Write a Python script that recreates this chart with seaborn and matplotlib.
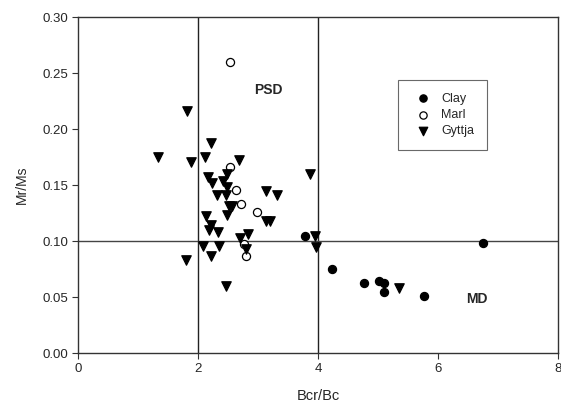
"""Mr/Ms vs Bcr/Bc (Day plot) for clay, marl and gyttja samples."""

import matplotlib
matplotlib.use("Agg")

import matplotlib.pyplot as plt  # noqa: E402
import pandas as pd  # noqa: E402
import seaborn as sns  # noqa: E402

sns.set_style("white")
plt.rcParams["font.family"] = ["Liberation Sans", "DejaVu Sans"]
plt.rcParams["font.size"] = 9

# Data
clay_x = [3.78, 6.74, 4.24, 4.77, 5.02, 5.09, 5.10, 5.76]
clay_y = [0.105, 0.098, 0.075, 0.063, 0.064, 0.063, 0.055, 0.051]

marl_x = [2.54, 2.54, 2.64, 2.72, 2.99, 2.76, 2.80]
marl_y = [0.260, 0.166, 0.146, 0.133, 0.126, 0.097, 0.087]

gyttja_x = [1.82, 2.21, 1.34, 1.89, 2.12, 2.68, 3.86, 2.16, 2.24, 2.41,
            2.48, 2.49, 3.13, 3.31, 2.32, 2.46, 2.51, 2.56, 2.49, 3.13,
            3.20, 2.14, 2.21, 2.19, 2.33, 2.70, 2.84, 2.09, 2.35, 2.80,
            2.22, 1.80, 2.47, 3.95, 3.97, 5.35]
gyttja_y = [0.216, 0.188, 0.175, 0.171, 0.175, 0.172, 0.160, 0.157, 0.152, 0.154,
            0.160, 0.148, 0.145, 0.141, 0.141, 0.141, 0.131, 0.131, 0.123, 0.118,
            0.118, 0.122, 0.114, 0.110, 0.108, 0.103, 0.106, 0.096, 0.096, 0.093,
            0.087, 0.083, 0.060, 0.105, 0.095, 0.058]

df = pd.concat([
    pd.DataFrame({"Bcr/Bc": clay_x, "Mr/Ms": clay_y, "type": "Clay"}),
    pd.DataFrame({"Bcr/Bc": marl_x, "Mr/Ms": marl_y, "type": "Marl"}),
    pd.DataFrame({"Bcr/Bc": gyttja_x, "Mr/Ms": gyttja_y, "type": "Gyttja"}),
], ignore_index=True)

styles = {
    "Clay": dict(marker="o", color="black", s=34),
    "Marl": dict(marker="o", color="white", s=34),
    "Gyttja": dict(marker="v", color="black", s=46),
}

fig = plt.figure(figsize=(5.61, 4.05), dpi=100)
ax = fig.add_axes([0.139, 0.128, 0.856, 0.830])

for name, st in styles.items():
    sub = df[df["type"] == name]
    sns.scatterplot(data=sub, x="Bcr/Bc", y="Mr/Ms", ax=ax, label=name,
                    edgecolor="black", linewidth=0.9, zorder=3, **st)

# Domain boundaries
ax.axvline(2, color="#222222", linewidth=1.0, zorder=2)
ax.axvline(4, color="#222222", linewidth=1.0, zorder=2)
ax.axhline(0.10, color="#444444", linewidth=1.0, zorder=2)

ax.text(3.17, 0.235, "PSD", fontsize=10, fontweight="bold", ha="center", va="center")
ax.text(6.64, 0.048, "MD", fontsize=10, fontweight="bold", ha="center", va="center")

ax.set_xlim(0, 8)
ax.set_ylim(0, 0.30)
ax.set_xticks([0, 2, 4, 6, 8])
ax.set_yticks([0, 0.05, 0.10, 0.15, 0.20, 0.25, 0.30])
ax.set_yticklabels([f"{v:.2f}" for v in ax.get_yticks()])
ax.tick_params(direction="out", length=4, width=0.8, color="#333333",
               labelsize=9.5, bottom=True, left=True, pad=3)
ax.set_xlabel("Bcr/Bc", fontsize=10.5, labelpad=10)
ax.set_ylabel("Mr/Ms", fontsize=10, labelpad=10)
for sp in ax.spines.values():
    sp.set_color("#333333")
    sp.set_linewidth(1.0)

leg = ax.legend(loc="upper left", bbox_to_anchor=(0.667, 0.8125), frameon=True,
                fancybox=False, edgecolor="#444444", fontsize=9,
                borderpad=1.0, labelspacing=0.35, handlelength=2.0,
                handletextpad=0.45, borderaxespad=0, markerscale=0.9)
leg.get_frame().set_linewidth(0.8)

plt.savefig("out.png", dpi=100)
plt.close()
